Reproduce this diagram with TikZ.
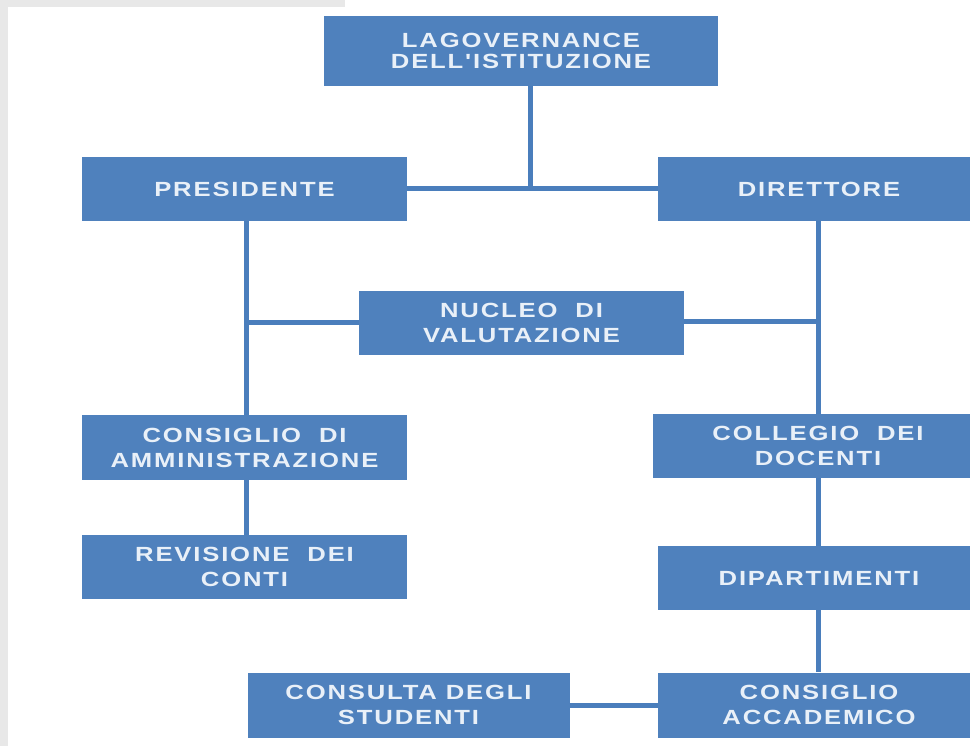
\documentclass[tikz,border=0pt]{standalone}
\usepackage{fontspec}
\setmainfont{Liberation Sans}[BoldFont={* Bold}]
\newfontfamily\boxfont{Liberation Sans Bold}[FakeStretch=1.25,LetterSpace=9]
\definecolor{boxblue}{HTML}{4F81BD}
\definecolor{lineblue}{HTML}{4A7EBC}
\definecolor{txt}{HTML}{E9F0F8}
\definecolor{bggray}{HTML}{E8E8E8}
\tikzset{
  orgbox/.style={fill=boxblue, text=txt, inner sep=0pt, align=center,
    font=\boxfont\fontsize{20.5}{25}\selectfont},
  conn/.style={draw=lineblue, line width=5pt}
}
\begin{document}
\begin{tikzpicture}[x=1pt,y=1pt]
\clip (0,0) rectangle (970,-746);
\useasboundingbox (0,0) rectangle (970,-746);
\fill[white] (0,0) rectangle (970,-746);
\fill[bggray] (0,0) rectangle (345,-7);
\fill[bggray] (0,0) rectangle (8,-746);
% nodes
\node[orgbox, minimum width=394pt, minimum height=70pt, font=\boxfont\fontsize{20.5}{21}\selectfont] (top) at (521,-51) {LAGOVERNANCE\\DELL'ISTITUZIONE};
\node[orgbox, minimum width=325pt, minimum height=64pt] (pres) at (244.5,-189) {PRESIDENTE};
\node[orgbox, minimum width=322pt, minimum height=64pt] (dir) at (819,-189) {DIRETTORE};
\node[orgbox, minimum width=325pt, minimum height=64pt] (nuc) at (521.5,-323) {NUCLEO\ \ DI\\VALUTAZIONE};
\node[orgbox, minimum width=325pt, minimum height=65pt] (cda) at (244.5,-447.5) {CONSIGLIO\ \ DI\\AMMINISTRAZIONE};
\node[orgbox, minimum width=330pt, minimum height=64pt] (col) at (818,-446) {COLLEGIO\ \ DEI\\DOCENTI};
\node[orgbox, minimum width=325pt, minimum height=64pt] (rev) at (244.5,-567) {REVISIONE\ \ DEI\\CONTI};
\node[orgbox, minimum width=322pt, minimum height=64pt] (dip) at (819,-578) {DIPARTIMENTI};
\node[orgbox, minimum width=322pt, minimum height=65pt] (cons) at (408.5,-705) {CONSULTA\ DEGLI\\STUDENTI};
\node[orgbox, minimum width=322pt, minimum height=65pt] (acc) at (819,-705) {CONSIGLIO\\ACCADEMICO};
% junctions
\coordinate (jt) at (530,-189);
\coordinate (jl) at (246,-323);
\coordinate (jr) at (818,-322);
% connectors
\draw[conn] (top.south -| jt) -- (jt);
\draw[conn] (pres.east |- jt) -- (dir.west |- jt);
\draw[conn] (pres.south -| jl) -- (cda.north -| jl);
\draw[conn] (jl) -- (nuc.west |- jl);
\draw[conn] (cda.south -| jl) -- (rev.north -| jl);
\draw[conn] (dir.south -| jr) -- (col.north -| jr);
\draw[conn] (nuc.east |- jr) -- (jr);
\draw[conn] (col.south -| jr) -- (dip.north -| jr);
\draw[conn] (dip.south -| jr) -- (acc.north -| jr);
\draw[conn] (cons.east) -- (acc.west);
\end{tikzpicture}
\end{document}
